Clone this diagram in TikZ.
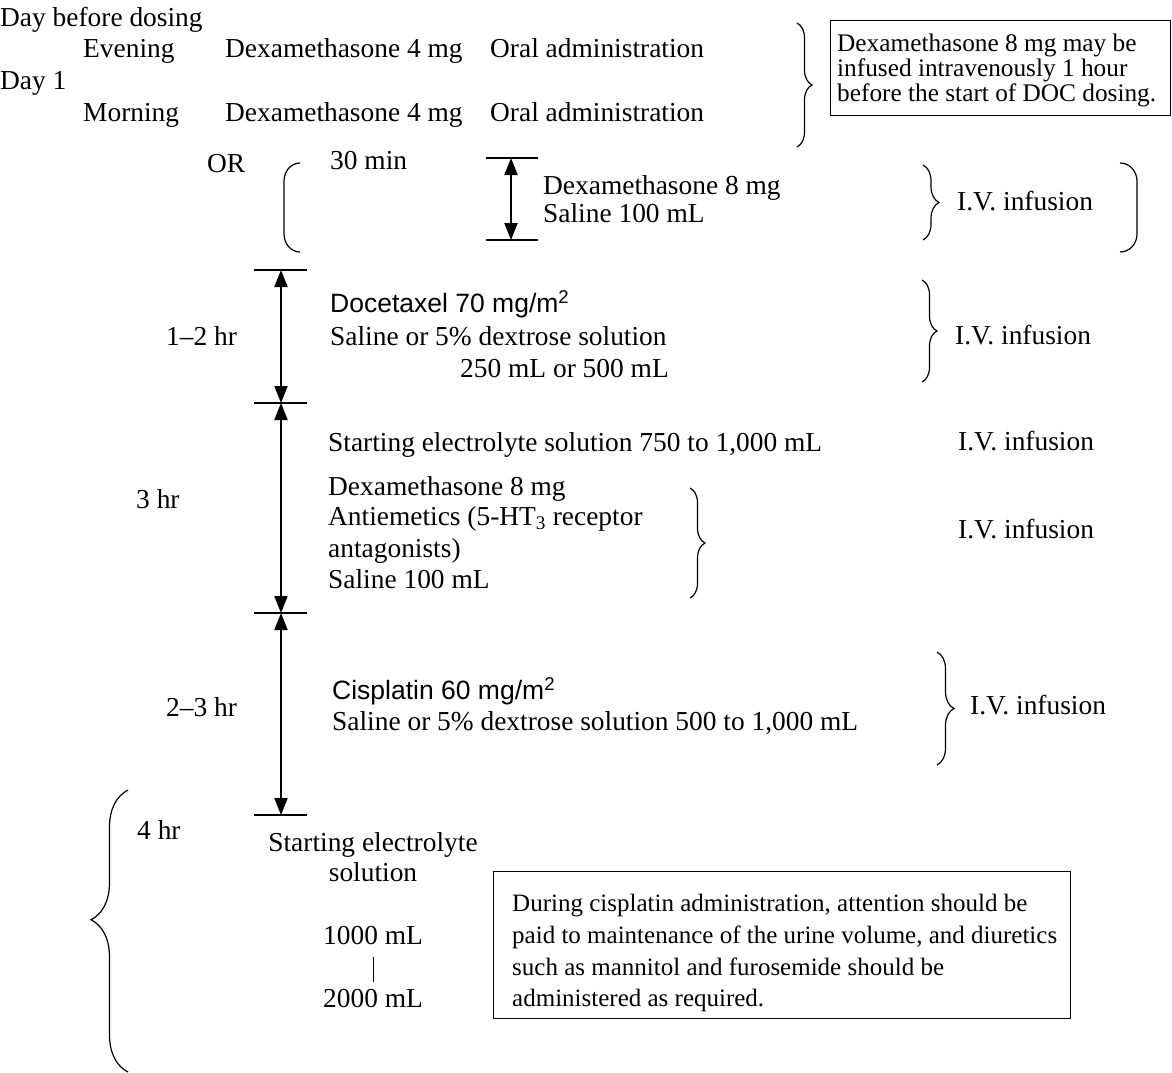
\documentclass[tikz,border=0pt]{standalone}
\usepackage{fontspec}
\setmainfont{Liberation Serif}
\newfontfamily\sansf{Liberation Sans}
\usetikzlibrary{arrows.meta,decorations.pathreplacing}
\begin{document}
\begin{tikzpicture}[x=1pt,y=-1pt,
  maintxt/.style={anchor=west, inner sep=0pt, font=\fontsize{27.4}{31}\selectfont, text height=18pt, text depth=0pt},
  ctxt/.style={maintxt, anchor=center},
  sanstxt/.style={anchor=west, inner sep=0pt, font=\sansf\fontsize{26.5}{31}\selectfont, text height=19pt, text depth=0pt},
  boxtxt/.style={anchor=west, inner sep=0pt, font=\fontsize{25.3}{25}\selectfont, text height=16.5pt, text depth=0pt},
  boxtxtb/.style={anchor=west, inner sep=0pt, font=\fontsize{25}{30}\selectfont, text height=16.5pt, text depth=0pt},
  frame/.style={draw, line width=1.3pt, inner sep=0pt, anchor=north west},
  brc/.style={decorate, decoration={brace, amplitude=#1}, line width=1.2pt},
  brca/.style={decorate, decoration={brace, amplitude=#1, aspect=0.54}, line width=1.2pt},
  tickl/.style={line width=1.5pt},
  dim/.style={line width=2pt, {Triangle[width=13pt,length=17pt]}-{Triangle[width=13pt,length=17pt]}},
  paren/.style={line width=1.2pt}
]
\useasboundingbox (0,0) rectangle (1172,1072);

% ---- top section
\node[maintxt] (day0) at (0,17) {Day before dosing};
\node[maintxt] (ev) at (83,48) {Evening};
\node[maintxt] (dx1) at (225,48) {Dexamethasone 4 mg};
\node[maintxt] (or1) at (490,48) {Oral administration};
\node[maintxt] (day1) at (0,80) {Day 1};
\node[maintxt] (mo) at (83,112) {Morning};
\node[maintxt] (dx2) at (225,112) {Dexamethasone 4 mg};
\node[maintxt] (or2) at (490,112) {Oral administration};
\draw[brc=15pt] (797,23) -- (797,147);
\node[frame, minimum width=340pt, minimum height=95pt] (box1) at (830,20) {};
\node[boxtxt] (b1l1) at (837,43) {Dexamethasone 8 mg may be};
\node[boxtxt] (b1l2) at (837,68) {infused intravenously 1 hour};
\node[boxtxt] (b1l3) at (837,93) {before the start of DOC dosing.};

% ---- OR section
\node[maintxt] (or) at (207,163) {OR};
\draw[paren] (300,163) to[out=180,in=90] (284,181) -- (284,234) to[out=-90,in=180] (300,252);
\node[maintxt] (thirty) at (330,160) {30 min};
\coordinate (a0) at (511,158);
\coordinate (a1) at (511,240);
\draw[tickl] ([xshift=-25pt]a0) -- ([xshift=27pt]a0);
\draw[tickl] ([xshift=-25pt]a1) -- ([xshift=27pt]a1);
\draw[dim] (a0) -- (a1);
\node[maintxt] (dx8a) at (543,185) {Dexamethasone 8 mg};
\node[maintxt] (sal1) at (543,213) {Saline 100 mL};
\draw[brc=16pt] (923,165) -- (923,240);
\node[maintxt] (iv1) at (957,201) {I.V. infusion};
\draw[paren] (1120,163) to[out=0,in=90] (1137,181) -- (1137,234) to[out=-90,in=0] (1120,252);

% ---- main timeline
\coordinate (m0) at (281,270);
\coordinate (m1) at (281,403);
\coordinate (m2) at (281,613);
\coordinate (m3) at (281,815);
\foreach \c in {m0,m1,m2,m3} {\draw[tickl] ([xshift=-27pt]\c) -- ([xshift=26pt]\c);}
\draw[dim] (m0) -- (m1);
\draw[dim] (m1) -- (m2);
\draw[dim] (m2) -- (m3);

% Docetaxel
\node[maintxt] (h12) at (166,336) {1–2 hr};
\node[sanstxt] (doc) at (330,303) {Docetaxel 70 mg/m\textsuperscript{2}};
\node[maintxt] (sal2) at (330,336) {Saline or 5\% dextrose solution};
\node[maintxt] (vol2) at (460,368) {250 mL or 500 mL};
\draw[brc=15pt] (922,280) -- (922,382);
\node[maintxt] (iv2) at (955,335) {I.V. infusion};

% Electrolyte / premedication
\node[maintxt] (ses) at (328,442) {Starting electrolyte solution 750 to 1,000 mL};
\node[maintxt] (iv3) at (958,441) {I.V. infusion};
\node[maintxt] (h3) at (136,499) {3 hr};
\node[maintxt] (dx8b) at (328,486) {Dexamethasone 8 mg};
\node[maintxt] (ant1) at (328,516) {Antiemetics (5-HT\textsubscript{3} receptor};
\node[maintxt] (ant2) at (328,548) {antagonists)};
\node[maintxt] (sal3) at (328,579) {Saline 100 mL};
\draw[brc=15pt] (690,488) -- (690,598);
\node[maintxt] (iv4) at (958,529) {I.V. infusion};

% Cisplatin
\node[maintxt] (h23) at (166,707) {2–3 hr};
\node[sanstxt] (cis) at (332,690) {Cisplatin 60 mg/m\textsuperscript{2}};
\node[maintxt] (sal4) at (332,721) {Saline or 5\% dextrose solution 500 to 1,000 mL};
\draw[brc=17pt] (937,652) -- (937,765);
\node[maintxt] (iv5) at (970,705) {I.V. infusion};

% ---- bottom section
\draw[brca=37pt] (128,1072) -- (128,790);
\node[maintxt] (h4) at (137,830) {4 hr};
\node[ctxt] (se1) at (373,842) {Starting electrolyte};
\node[ctxt] (se2) at (373,872) {solution};
\node[ctxt] (n1000) at (373,935) {1000 mL};
\node[ctxt] (n2000) at (373,998) {2000 mL};
\draw[line width=0.8pt] ([yshift=-13pt]n1000.south) -- ([yshift=7pt]n2000.north);
\node[frame, minimum width=577pt, minimum height=147pt] (box2) at (493,871) {};
\node[boxtxtb] (b2l1) at (512,903) {During cisplatin administration, attention should be};
\node[boxtxtb] (b2l2) at (512,935) {paid to maintenance of the urine volume, and diuretics};
\node[boxtxtb] (b2l3) at (512,967) {such as mannitol and furosemide should be};
\node[boxtxtb] (b2l4) at (512,998) {administered as required.};
\end{tikzpicture}
\end{document}
